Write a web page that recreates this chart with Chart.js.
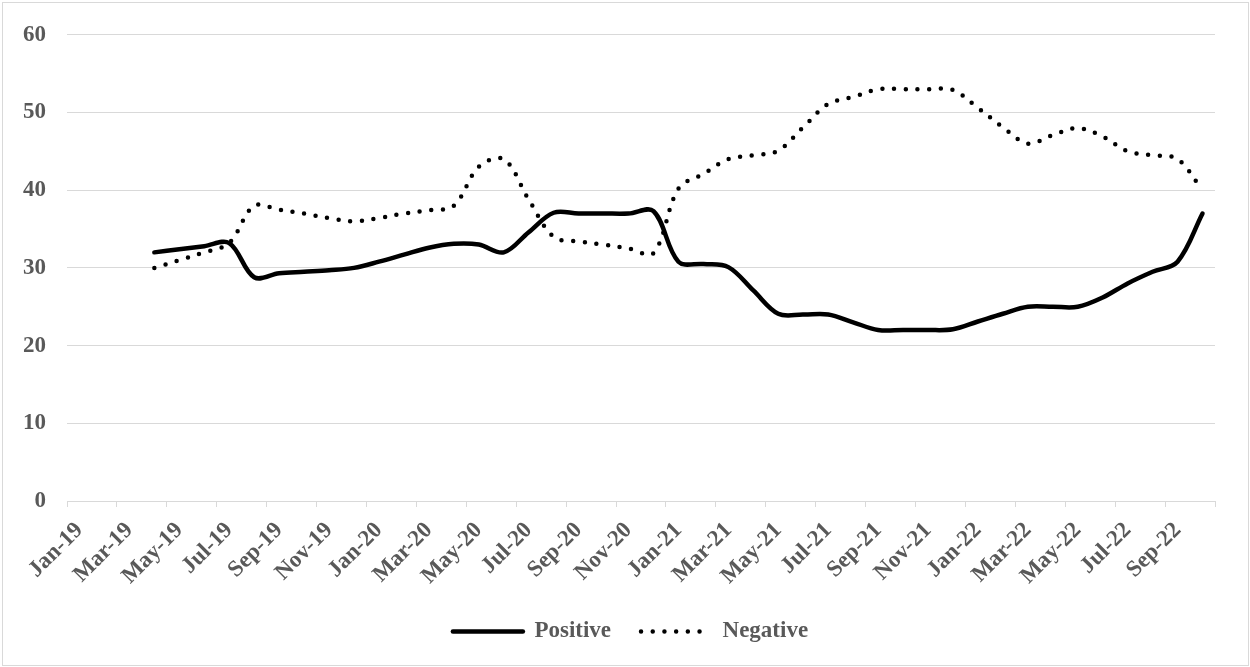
<!DOCTYPE html>
<html>
<head>
<meta charset="utf-8">
<title>Positive and Negative</title>
<script src="https://cdn.jsdelivr.net/npm/chart.js@4/dist/chart.umd.min.js"></script>
<style>
  html, body { margin: 0; padding: 0; background: #ffffff; }
  #wrap { width: 1250px; height: 667px; position: relative; }
  canvas { display: block; }
</style>
</head>
<body>
<div id="wrap"><canvas id="chart" width="1250" height="667"></canvas></div>
<script>
// Monthly categories, Jan-19 .. Oct-22
const months = [
  'Jan-19','Feb-19','Mar-19','Apr-19','May-19','Jun-19','Jul-19','Aug-19','Sep-19','Oct-19','Nov-19','Dec-19',
  'Jan-20','Feb-20','Mar-20','Apr-20','May-20','Jun-20','Jul-20','Aug-20','Sep-20','Oct-20','Nov-20','Dec-20',
  'Jan-21','Feb-21','Mar-21','Apr-21','May-21','Jun-21','Jul-21','Aug-21','Sep-21','Oct-21','Nov-21','Dec-21',
  'Jan-22','Feb-22','Mar-22','Apr-22','May-22','Jun-22','Jul-22','Aug-22','Sep-22','Oct-22'
];

// Axis labels, one every two months
const tickLabels = [
  'Jan-19','Mar-19','May-19','Jul-19','Sep-19','Nov-19',
  'Jan-20','Mar-20','May-20','Jul-20','Sep-20','Nov-20',
  'Jan-21','Mar-21','May-21','Jul-21','Sep-21','Nov-21',
  'Jan-22','Mar-22','May-22','Jul-22','Sep-22'
];

// Series values (null = no data for that month)
const positive = [
  null, null, null, 32.0, 32.4, 32.8, 33.2, 28.8, 29.3, 29.5, 29.7, 30.0,
  30.8, 31.7, 32.6, 33.1, 33.0, 32.0, 34.6, 37.1, 37.0, 37.0, 37.0, 37.3,
  30.8, 30.5, 30.1, 27.1, 24.1, 24.0, 24.0, 23.0, 22.0, 22.0, 22.0, 22.1,
  23.1, 24.1, 25.0, 25.0, 25.0, 26.2, 28.0, 29.5, 30.8, 37.0
];
const negative = [
  null, null, null, 30.0, 31.0, 32.0, 33.2, 38.0, 37.5, 37.0, 36.4, 36.0,
  36.4, 37.0, 37.4, 38.0, 43.0, 44.0, 38.8, 34.0, 33.4, 33.0, 32.5, 31.9,
  40.2, 42.1, 44.0, 44.5, 45.1, 48.1, 51.1, 52.0, 53.0, 53.0, 53.0, 52.9,
  50.6, 48.1, 46.0, 47.1, 48.0, 46.9, 45.0, 44.5, 44.0, 40.0
];

// Each month sits in the middle of its own slot on a numeric month axis
const toPoints = (values) => values
  .map((v, i) => ({ x: i + 0.5, y: v }))
  .filter(p => p.y !== null);

const FONT = "'Liberation Serif', 'Times New Roman', serif";
const TEXT = '#595959';
const GRID = '#d9d9d9';
const LABEL_FONT = { family: FONT, size: 23, weight: 'bold' };

const frame = {
  id: 'frame',
  beforeDraw(chart) {
    const ctx = chart.ctx;
    ctx.save();
    ctx.fillStyle = '#ffffff';
    ctx.fillRect(0, 0, chart.width, chart.height);
    ctx.strokeStyle = GRID;
    ctx.lineWidth = 1;
    ctx.strokeRect(2.5, 2.5, chart.width - 4, chart.height - 4);
    ctx.restore();
  }
};

new Chart(document.getElementById('chart'), {
  type: 'line',
  data: {
    datasets: [
      {
        label: 'Positive',
        data: toPoints(positive),
        borderColor: '#000000',
        backgroundColor: '#000000',
        borderWidth: 4.5,
        borderCapStyle: 'round',
        borderJoinStyle: 'round',
        pointRadius: 0,
        tension: 0.35,
        fill: false,
        yAxisID: 'y'
      },
      {
        label: 'Negative',
        data: toPoints(negative),
        borderColor: '#000000',
        backgroundColor: '#000000',
        borderWidth: 4.5,
        borderDash: [0, 11.7],
        borderCapStyle: 'round',
        borderJoinStyle: 'round',
        pointRadius: 0,
        tension: 0.35,
        fill: false,
        yAxisID: 'y'
      }
    ]
  },
  options: {
    responsive: false,
    animation: false,
    devicePixelRatio: 1,
    // legend band runs from 0 to 1261 so the legend centres at x = 630
    layout: { padding: { left: 0, right: -11, top: 31, bottom: 14 } },
    scales: {
      x: {
        type: 'linear',
        position: 'bottom',
        min: 0,
        max: months.length,
        afterFit(scale) { scale.height = 89; },
        ticks: {
          stepSize: 2,
          autoSkip: false,
          minRotation: 45,
          maxRotation: 45,
          labelOffset: 12.5,
          padding: 10,
          color: TEXT,
          font: LABEL_FONT,
          callback: (value) => {
            const k = Math.round(value / 2);
            return tickLabels[k] !== undefined ? tickLabels[k] : '';
          }
        },
        grid: {
          display: true,
          drawOnChartArea: false,
          drawTicks: true,
          tickLength: 6,
          color: GRID,
          lineWidth: 1
        },
        border: { display: true, color: GRID, width: 1 }
      },
      y: {
        position: 'left',
        min: 0,
        max: 60,
        afterFit(scale) { scale.width = 67; },
        ticks: {
          stepSize: 10,
          padding: 21,
          color: TEXT,
          font: LABEL_FONT
        },
        grid: { color: GRID, lineWidth: 1, drawTicks: false },
        border: { display: false }
      },
      // empty right-hand margin beside the plot
      yRight: {
        position: 'right',
        min: 0,
        max: 60,
        afterFit(scale) { scale.width = 46; },
        ticks: { display: false },
        grid: { display: false },
        border: { display: false }
      }
    },
    plugins: {
      legend: {
        position: 'bottom',
        labels: {
          usePointStyle: true,
          pointStyle: 'line',
          pointStyleWidth: 70,
          padding: 30,
          color: TEXT,
          font: LABEL_FONT,
          generateLabels(chart) {
            const items = Chart.defaults.plugins.legend.labels.generateLabels(chart);
            items.forEach((item) => {
              const ds = chart.data.datasets[item.datasetIndex];
              item.pointStyle = 'line';
              item.lineWidth = ds.borderWidth;
              item.lineDash = ds.borderDash || [];
              item.lineCap = 'round';
              item.strokeStyle = ds.borderColor;
              item.fontColor = TEXT;
            });
            return items;
          }
        }
      },
      tooltip: { enabled: false }
    }
  },
  plugins: [frame]
});
</script>
</body>
</html>
